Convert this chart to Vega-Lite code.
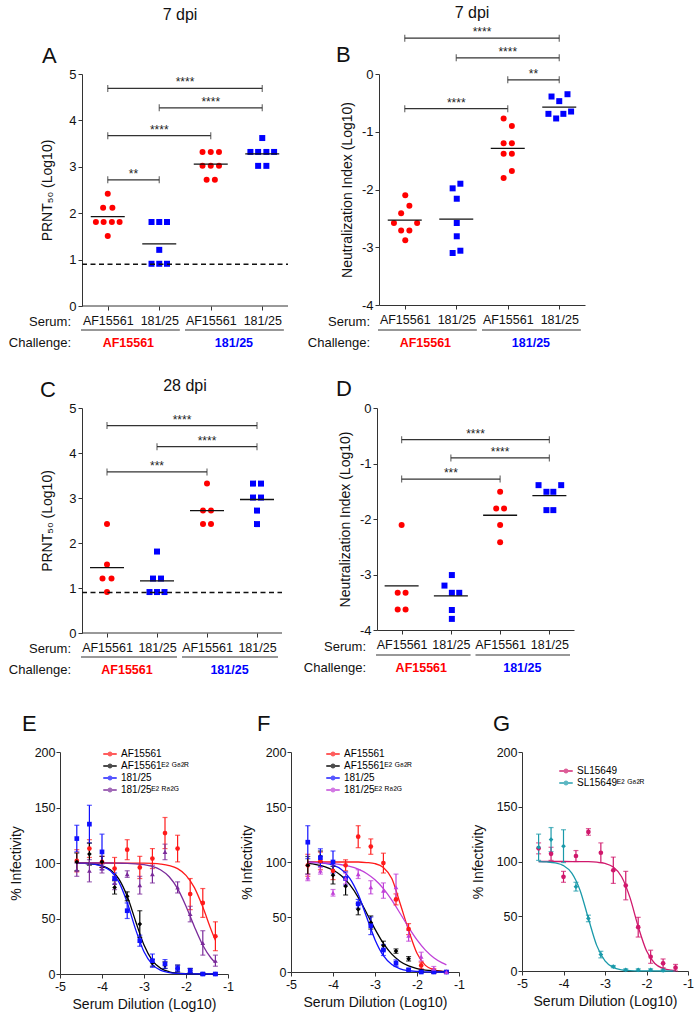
{
"$schema":"https://vega.github.io/schema/vega-lite/v6.json",
"padding":{"left":8,"top":5,"right":5,"bottom":5},
"background":"white",
"config":{"font":"Liberation Sans","view":{"stroke":null},
 "axis":{"grid":false,"domainColor":"#333","tickColor":"#333","labelColor":"#111","titleColor":"#111","titleFontWeight":"normal","tickSize":4,"labelFont":"Liberation Sans","titleFont":"Liberation Sans"},
 "title":{"font":"Liberation Sans","fontWeight":"normal","fontSize":16,"color":"#111"},
 "text":{"font":"Liberation Sans"}},
"datasets":{
"UL":[{"a":0.48,"b":2.4},{"a":2.5,"b":4.42}],
"CH":[{"t":"AF15561","x":1.4},{"t":"181/25","x":3.45}],
"A_pts":[{"g":1,"s":"AF15561","x":1.0,"v":2.42},{"g":1,"s":"AF15561","x":0.91,"v":2.12},{"g":1,"s":"AF15561","x":1.09,"v":2.12},{"g":1,"s":"AF15561","x":0.77,"v":1.81},{"g":1,"s":"AF15561","x":0.92,"v":1.81},{"g":1,"s":"AF15561","x":1.08,"v":1.81},{"g":1,"s":"AF15561","x":1.23,"v":1.81},{"g":1,"s":"AF15561","x":1.0,"v":1.51},
{"g":2,"s":"181/25","x":1.85,"v":1.81},{"g":2,"s":"181/25","x":2.0,"v":1.81},{"g":2,"s":"181/25","x":2.15,"v":1.81},{"g":2,"s":"181/25","x":2.0,"v":1.21},{"g":2,"s":"181/25","x":1.85,"v":0.91},{"g":2,"s":"181/25","x":2.0,"v":0.91},{"g":2,"s":"181/25","x":2.15,"v":0.91},
{"g":3,"s":"AF15561","x":2.84,"v":3.32},{"g":3,"s":"AF15561","x":3.0,"v":3.32},{"g":3,"s":"AF15561","x":3.16,"v":3.32},{"g":3,"s":"AF15561","x":2.84,"v":3.02},{"g":3,"s":"AF15561","x":3.0,"v":3.02},{"g":3,"s":"AF15561","x":3.16,"v":3.02},{"g":3,"s":"AF15561","x":2.92,"v":2.72},{"g":3,"s":"AF15561","x":3.08,"v":2.72},
{"g":4,"s":"181/25","x":4.0,"v":3.62},{"g":4,"s":"181/25","x":3.77,"v":3.32},{"g":4,"s":"181/25","x":3.92,"v":3.32},{"g":4,"s":"181/25","x":4.08,"v":3.32},{"g":4,"s":"181/25","x":4.23,"v":3.32},{"g":4,"s":"181/25","x":3.92,"v":3.02},{"g":4,"s":"181/25","x":4.08,"v":3.02}],
"A_br":[{"a":1,"b":4,"y":4.69,"l":"****","m":2.5},{"a":2,"b":4,"y":4.27,"l":"****","m":3},{"a":1,"b":3,"y":3.67,"l":"****","m":2},{"a":1,"b":2,"y":2.72,"l":"**","m":1.5}],
"B_pts":[{"g":1,"s":"AF15561","x":1.01,"v":-2.10},{"g":1,"s":"AF15561","x":1.09,"v":-2.28},{"g":1,"s":"AF15561","x":0.93,"v":-2.41},{"g":1,"s":"AF15561","x":0.79,"v":-2.58},{"g":1,"s":"AF15561","x":1.24,"v":-2.58},{"g":1,"s":"AF15561","x":0.93,"v":-2.71},{"g":1,"s":"AF15561","x":1.09,"v":-2.71},{"g":1,"s":"AF15561","x":1.01,"v":-2.88},
{"g":2,"s":"181/25","x":2.08,"v":-1.90},{"g":2,"s":"181/25","x":1.93,"v":-1.98},{"g":2,"s":"181/25","x":2.01,"v":-2.16},{"g":2,"s":"181/25","x":2.01,"v":-2.58},{"g":2,"s":"181/25","x":2.01,"v":-2.81},{"g":2,"s":"181/25","x":2.08,"v":-3.06},{"g":2,"s":"181/25","x":1.93,"v":-3.10},
{"g":3,"s":"AF15561","x":2.92,"v":-0.77},{"g":3,"s":"AF15561","x":3.08,"v":-0.90},{"g":3,"s":"AF15561","x":2.92,"v":-1.20},{"g":3,"s":"AF15561","x":3.08,"v":-1.20},{"g":3,"s":"AF15561","x":2.92,"v":-1.38},{"g":3,"s":"AF15561","x":3.08,"v":-1.38},{"g":3,"s":"AF15561","x":3.08,"v":-1.68},{"g":3,"s":"AF15561","x":2.92,"v":-1.80},
{"g":4,"s":"181/25","x":4.16,"v":-0.35},{"g":4,"s":"181/25","x":3.85,"v":-0.39},{"g":4,"s":"181/25","x":4.0,"v":-0.47},{"g":4,"s":"181/25","x":4.23,"v":-0.65},{"g":4,"s":"181/25","x":3.79,"v":-0.69},{"g":4,"s":"181/25","x":4.08,"v":-0.69},{"g":4,"s":"181/25","x":3.94,"v":-0.77}],
"B_br":[{"a":1,"b":4,"y":0.62,"l":"****","m":2.5},{"a":2,"b":4,"y":0.28,"l":"****","m":3},{"a":3,"b":4,"y":-0.10,"l":"**","m":3.5},{"a":1,"b":3,"y":-0.60,"l":"****","m":2}],
"C_pts":[{"g":1,"s":"AF15561","x":1.0,"v":2.42},{"g":1,"s":"AF15561","x":1.0,"v":1.52},{"g":1,"s":"AF15561","x":0.91,"v":1.21},{"g":1,"s":"AF15561","x":1.09,"v":1.21},{"g":1,"s":"AF15561","x":1.0,"v":0.91},
{"g":2,"s":"181/25","x":2.0,"v":1.81},{"g":2,"s":"181/25","x":1.92,"v":1.21},{"g":2,"s":"181/25","x":2.08,"v":1.21},{"g":2,"s":"181/25","x":1.85,"v":0.91},{"g":2,"s":"181/25","x":2.0,"v":0.91},{"g":2,"s":"181/25","x":2.15,"v":0.91},
{"g":3,"s":"AF15561","x":3.0,"v":3.32},{"g":3,"s":"AF15561","x":2.92,"v":2.72},{"g":3,"s":"AF15561","x":3.08,"v":2.72},{"g":3,"s":"AF15561","x":2.92,"v":2.42},{"g":3,"s":"AF15561","x":3.08,"v":2.42},
{"g":4,"s":"181/25","x":3.92,"v":3.32},{"g":4,"s":"181/25","x":4.08,"v":3.32},{"g":4,"s":"181/25","x":3.92,"v":3.01},{"g":4,"s":"181/25","x":4.08,"v":3.01},{"g":4,"s":"181/25","x":4.0,"v":2.72},{"g":4,"s":"181/25","x":4.0,"v":2.42}],
"C_br":[{"a":1,"b":4,"y":4.61,"l":"****","m":2.5},{"a":2,"b":4,"y":4.14,"l":"****","m":3},{"a":1,"b":3,"y":3.58,"l":"***","m":2}],
"D_pts":[{"g":1,"s":"AF15561","x":1.0,"v":-2.11},{"g":1,"s":"AF15561","x":0.92,"v":-3.33},{"g":1,"s":"AF15561","x":1.08,"v":-3.33},{"g":1,"s":"AF15561","x":0.92,"v":-3.63},{"g":1,"s":"AF15561","x":1.08,"v":-3.63},
{"g":2,"s":"181/25","x":2.02,"v":-3.01},{"g":2,"s":"181/25","x":1.87,"v":-3.20},{"g":2,"s":"181/25","x":2.02,"v":-3.33},{"g":2,"s":"181/25","x":2.17,"v":-3.33},{"g":2,"s":"181/25","x":2.02,"v":-3.64},{"g":2,"s":"181/25","x":2.02,"v":-3.80},
{"g":3,"s":"AF15561","x":3.0,"v":-1.51},{"g":3,"s":"AF15561","x":2.92,"v":-1.81},{"g":3,"s":"AF15561","x":3.08,"v":-1.81},{"g":3,"s":"AF15561","x":3.0,"v":-2.11},{"g":3,"s":"AF15561","x":3.0,"v":-2.42},
{"g":4,"s":"181/25","x":3.78,"v":-1.39},{"g":4,"s":"181/25","x":4.24,"v":-1.39},{"g":4,"s":"181/25","x":3.94,"v":-1.51},{"g":4,"s":"181/25","x":4.08,"v":-1.51},{"g":4,"s":"181/25","x":3.94,"v":-1.84},{"g":4,"s":"181/25","x":4.08,"v":-1.84}],
"D_br":[{"a":1,"b":4,"y":-0.57,"l":"****","m":2.5},{"a":2,"b":4,"y":-0.90,"l":"****","m":3},{"a":1,"b":3,"y":-1.28,"l":"***","m":2}],
"E_pts":[
{"s":"r","x":-4.6,"m":102,"e":10},{"s":"r","x":-4.3,"m":113,"e":8},{"s":"r","x":-4.0,"m":101,"e":5},{"s":"r","x":-3.7,"m":95,"e":10},{"s":"r","x":-3.4,"m":112,"e":9},{"s":"r","x":-3.1,"m":96,"e":10},{"s":"r","x":-2.8,"m":104,"e":9},{"s":"r","x":-2.5,"m":127,"e":14},{"s":"r","x":-2.2,"m":113,"e":12},{"s":"r","x":-1.9,"m":72,"e":14},{"s":"r","x":-1.6,"m":64,"e":13},{"s":"r","x":-1.3,"m":34,"e":13},
{"s":"k","x":-4.6,"m":101,"e":8},{"s":"k","x":-4.3,"m":108,"e":10},{"s":"k","x":-4.0,"m":101,"e":5},{"s":"k","x":-3.7,"m":78,"e":6},{"s":"k","x":-3.4,"m":70,"e":4},{"s":"k","x":-3.1,"m":45,"e":12},{"s":"k","x":-2.8,"m":10,"e":3},{"s":"k","x":-2.5,"m":8,"e":3},{"s":"k","x":-2.2,"m":5,"e":3},{"s":"k","x":-1.9,"m":3,"e":2},{"s":"k","x":-1.6,"m":0,"e":1},{"s":"k","x":-1.3,"m":0,"e":1},
{"s":"b","x":-4.6,"m":122,"e":12},{"s":"b","x":-4.3,"m":135,"e":17},{"s":"b","x":-4.0,"m":110,"e":16},{"s":"b","x":-3.7,"m":86,"e":5},{"s":"b","x":-3.4,"m":57,"e":7},{"s":"b","x":-3.1,"m":30,"e":5},{"s":"b","x":-2.8,"m":12,"e":6},{"s":"b","x":-2.5,"m":9,"e":4},{"s":"b","x":-2.2,"m":5,"e":3},{"s":"b","x":-1.9,"m":3,"e":2},{"s":"b","x":-1.6,"m":0,"e":1},{"s":"b","x":-1.3,"m":0,"e":1},
{"s":"p","x":-4.6,"m":94,"e":6},{"s":"p","x":-4.3,"m":93,"e":10},{"s":"p","x":-4.0,"m":95,"e":4},{"s":"p","x":-3.7,"m":82,"e":6},{"s":"p","x":-3.4,"m":90,"e":3},{"s":"p","x":-3.1,"m":80,"e":8},{"s":"p","x":-2.8,"m":90,"e":8},{"s":"p","x":-2.5,"m":110,"e":7},{"s":"p","x":-2.2,"m":78,"e":5},{"s":"p","x":-1.9,"m":54,"e":7},{"s":"p","x":-1.6,"m":28,"e":11},{"s":"p","x":-1.3,"m":12,"e":5}],
"E_fit":[
{"s":"r","x":-4.6,"y":100},{"s":"r","x":-4.2,"y":100},{"s":"r","x":-3.8,"y":100},{"s":"r","x":-3.4,"y":99.9},{"s":"r","x":-3.0,"y":99.8},{"s":"r","x":-2.8,"y":99.6},{"s":"r","x":-2.6,"y":99.0},{"s":"r","x":-2.4,"y":97.7},{"s":"r","x":-2.2,"y":94.9},{"s":"r","x":-2.0,"y":88.9},{"s":"r","x":-1.8,"y":77.8},{"s":"r","x":-1.6,"y":60.3},{"s":"r","x":-1.4,"y":39.7},{"s":"r","x":-1.3,"y":30.3},
{"s":"k","x":-4.6,"y":99.85},{"s":"k","x":-4.4,"y":99.6},{"s":"k","x":-4.2,"y":99.0},{"s":"k","x":-4.0,"y":97.5},{"s":"k","x":-3.8,"y":93.9},{"s":"k","x":-3.6,"y":85.7},{"s":"k","x":-3.4,"y":70.0},{"s":"k","x":-3.2,"y":47.6},{"s":"k","x":-3.0,"y":26.1},{"s":"k","x":-2.8,"y":12.1},{"s":"k","x":-2.6,"y":5.1},{"s":"k","x":-2.4,"y":2.0},{"s":"k","x":-2.2,"y":0.8},{"s":"k","x":-2.0,"y":0.3},{"s":"k","x":-1.8,"y":0.1},{"s":"k","x":-1.3,"y":0},
{"s":"b","x":-4.6,"y":99.85},{"s":"b","x":-4.4,"y":99.6},{"s":"b","x":-4.2,"y":99.0},{"s":"b","x":-4.0,"y":97.2},{"s":"b","x":-3.8,"y":92.9},{"s":"b","x":-3.6,"y":83.0},{"s":"b","x":-3.4,"y":64.4},{"s":"b","x":-3.2,"y":40.2},{"s":"b","x":-3.0,"y":20.0},{"s":"b","x":-2.8,"y":8.5},{"s":"b","x":-2.6,"y":3.3},{"s":"b","x":-2.4,"y":1.3},{"s":"b","x":-2.2,"y":0.5},{"s":"b","x":-2.0,"y":0.2},{"s":"b","x":-1.8,"y":0.1},{"s":"b","x":-1.3,"y":0},
{"s":"p","x":-4.6,"y":100},{"s":"p","x":-4.0,"y":100},{"s":"p","x":-3.6,"y":99.8},{"s":"p","x":-3.4,"y":99.7},{"s":"p","x":-3.2,"y":99.3},{"s":"p","x":-3.0,"y":98.5},{"s":"p","x":-2.8,"y":96.9},{"s":"p","x":-2.6,"y":93.7},{"s":"p","x":-2.4,"y":87.6},{"s":"p","x":-2.2,"y":76.9},{"s":"p","x":-2.0,"y":61.1},{"s":"p","x":-1.8,"y":42.6},{"s":"p","x":-1.6,"y":25.9},{"s":"p","x":-1.4,"y":14.2},{"s":"p","x":-1.3,"y":10.2}],
"F_pts":[
{"s":"r","x":-4.6,"m":97,"e":10},{"s":"r","x":-4.3,"m":101,"e":8},{"s":"r","x":-4.0,"m":92,"e":8},{"s":"r","x":-3.7,"m":97,"e":5},{"s":"r","x":-3.4,"m":123,"e":10},{"s":"r","x":-3.1,"m":114,"e":7},{"s":"r","x":-2.8,"m":99,"e":9},{"s":"r","x":-2.5,"m":66,"e":5},{"s":"r","x":-2.2,"m":39,"e":5},{"s":"r","x":-1.9,"m":6,"e":3},{"s":"r","x":-1.6,"m":1,"e":2},{"s":"r","x":-1.3,"m":0,"e":1},
{"s":"k","x":-4.6,"m":97,"e":8},{"s":"k","x":-4.3,"m":105,"e":5},{"s":"k","x":-4.0,"m":88,"e":8},{"s":"k","x":-3.7,"m":78,"e":8},{"s":"k","x":-3.4,"m":57,"e":5},{"s":"k","x":-3.1,"m":45,"e":6},{"s":"k","x":-2.8,"m":24,"e":4},{"s":"k","x":-2.5,"m":19,"e":2},{"s":"k","x":-2.2,"m":12,"e":2},{"s":"k","x":-1.9,"m":1,"e":1},{"s":"k","x":-1.6,"m":0,"e":1},{"s":"k","x":-1.3,"m":0,"e":1},
{"s":"b","x":-4.6,"m":118,"e":15},{"s":"b","x":-4.3,"m":104,"e":8},{"s":"b","x":-4.0,"m":100,"e":10},{"s":"b","x":-3.7,"m":85,"e":6},{"s":"b","x":-3.4,"m":62,"e":4},{"s":"b","x":-3.1,"m":42,"e":8},{"s":"b","x":-2.8,"m":20,"e":5},{"s":"b","x":-2.5,"m":8,"e":3},{"s":"b","x":-2.2,"m":2,"e":1},{"s":"b","x":-1.9,"m":0,"e":1},{"s":"b","x":-1.6,"m":0,"e":1},{"s":"b","x":-1.3,"m":0,"e":1},
{"s":"p","x":-4.6,"m":86,"e":3},{"s":"p","x":-4.3,"m":92,"e":3},{"s":"p","x":-4.0,"m":72,"e":3},{"s":"p","x":-3.7,"m":85,"e":5},{"s":"p","x":-3.4,"m":89,"e":4},{"s":"p","x":-3.1,"m":77,"e":6},{"s":"p","x":-2.8,"m":74,"e":7},{"s":"p","x":-2.5,"m":77,"e":12},{"s":"p","x":-2.2,"m":33,"e":5},{"s":"p","x":-1.9,"m":14,"e":4},{"s":"p","x":-1.6,"m":3,"e":2},{"s":"p","x":-1.3,"m":0,"e":1}],
"F_fit":[
{"s":"r","x":-4.6,"y":100},{"s":"r","x":-4.0,"y":100},{"s":"r","x":-3.4,"y":100},{"s":"r","x":-3.2,"y":99.5},{"s":"r","x":-3.0,"y":98.5},{"s":"r","x":-2.8,"y":95},{"s":"r","x":-2.6,"y":85},{"s":"r","x":-2.4,"y":62},{"s":"r","x":-2.2,"y":38},{"s":"r","x":-2.0,"y":17},{"s":"r","x":-1.8,"y":6},{"s":"r","x":-1.6,"y":2},{"s":"r","x":-1.4,"y":0.6},{"s":"r","x":-1.3,"y":0.3},
{"s":"k","x":-4.6,"y":98.7},{"s":"k","x":-4.4,"y":97.7},{"s":"k","x":-4.2,"y":95.9},{"s":"k","x":-4.0,"y":92.7},{"s":"k","x":-3.8,"y":87.5},{"s":"k","x":-3.6,"y":79.4},{"s":"k","x":-3.4,"y":67.9},{"s":"k","x":-3.2,"y":53.7},{"s":"k","x":-3.0,"y":39.0},{"s":"k","x":-2.8,"y":26.0},{"s":"k","x":-2.6,"y":16.2},{"s":"k","x":-2.4,"y":9.6},{"s":"k","x":-2.2,"y":5.5},{"s":"k","x":-2.0,"y":3.1},{"s":"k","x":-1.8,"y":1.7},{"s":"k","x":-1.6,"y":1.0},{"s":"k","x":-1.4,"y":0.5},{"s":"k","x":-1.3,"y":0.4},
{"s":"b","x":-4.6,"y":99.8},{"s":"b","x":-4.4,"y":99.5},{"s":"b","x":-4.2,"y":98.8},{"s":"b","x":-4.0,"y":97.1},{"s":"b","x":-3.8,"y":93.2},{"s":"b","x":-3.6,"y":85.2},{"s":"b","x":-3.4,"y":70.6},{"s":"b","x":-3.2,"y":50},{"s":"b","x":-3.0,"y":29.4},{"s":"b","x":-2.8,"y":14.8},{"s":"b","x":-2.6,"y":6.8},{"s":"b","x":-2.4,"y":2.9},{"s":"b","x":-2.2,"y":1.2},{"s":"b","x":-2.0,"y":0.5},{"s":"b","x":-1.8,"y":0.2},{"s":"b","x":-1.3,"y":0},
{"s":"p","x":-4.6,"y":99.7},{"s":"p","x":-4.4,"y":99.4},{"s":"p","x":-4.2,"y":99.1},{"s":"p","x":-4.0,"y":98.5},{"s":"p","x":-3.8,"y":97.5},{"s":"p","x":-3.6,"y":96.0},{"s":"p","x":-3.4,"y":93.5},{"s":"p","x":-3.2,"y":89.6},{"s":"p","x":-3.0,"y":83.8},{"s":"p","x":-2.8,"y":75.8},{"s":"p","x":-2.6,"y":65.3},{"s":"p","x":-2.4,"y":53.2},{"s":"p","x":-2.2,"y":40.6},{"s":"p","x":-2.0,"y":29.2},{"s":"p","x":-1.8,"y":19.9},{"s":"p","x":-1.6,"y":13.0},{"s":"p","x":-1.4,"y":8.3},{"s":"p","x":-1.3,"y":6.5}],
"G_pts":[
{"s":"m","x":-4.6,"m":112,"e":5},{"s":"m","x":-4.3,"m":107,"e":6},{"s":"m","x":-4.0,"m":86,"e":5},{"s":"m","x":-3.7,"m":105,"e":5},{"s":"m","x":-3.4,"m":127,"e":3},{"s":"m","x":-3.1,"m":108,"e":9},{"s":"m","x":-2.8,"m":92,"e":12},{"s":"m","x":-2.5,"m":78,"e":13},{"s":"m","x":-2.2,"m":40,"e":9},{"s":"m","x":-1.9,"m":13,"e":6},{"s":"m","x":-1.6,"m":7,"e":4},{"s":"m","x":-1.3,"m":3,"e":3},
{"s":"t","x":-4.6,"m":113,"e":12},{"s":"t","x":-4.3,"m":120,"e":11},{"s":"t","x":-4.0,"m":114,"e":15},{"s":"t","x":-3.7,"m":77,"e":4},{"s":"t","x":-3.4,"m":48,"e":3},{"s":"t","x":-3.1,"m":15,"e":3},{"s":"t","x":-2.8,"m":4,"e":1},{"s":"t","x":-2.5,"m":1,"e":1},{"s":"t","x":-2.2,"m":1,"e":1},{"s":"t","x":-1.9,"m":1,"e":1},{"s":"t","x":-1.6,"m":0.5,"e":1}],
"G_fit":[
{"s":"m","x":-4.6,"y":100},{"s":"m","x":-4.0,"y":100},{"s":"m","x":-3.6,"y":99.9},{"s":"m","x":-3.4,"y":99.8},{"s":"m","x":-3.2,"y":99.4},{"s":"m","x":-3.0,"y":98.3},{"s":"m","x":-2.8,"y":94.9},{"s":"m","x":-2.6,"y":86.1},{"s":"m","x":-2.4,"y":67.2},{"s":"m","x":-2.2,"y":40.5},{"s":"m","x":-2.0,"y":18.4},{"s":"m","x":-1.8,"y":6.9},{"s":"m","x":-1.6,"y":2.4},{"s":"m","x":-1.4,"y":0.8},{"s":"m","x":-1.3,"y":0.5},
{"s":"t","x":-4.6,"y":99.9},{"s":"t","x":-4.4,"y":99.6},{"s":"t","x":-4.2,"y":98.7},{"s":"t","x":-4.0,"y":96.2},{"s":"t","x":-3.8,"y":89.4},{"s":"t","x":-3.6,"y":73.6},{"s":"t","x":-3.4,"y":47.9},{"s":"t","x":-3.2,"y":23.4},{"s":"t","x":-3.0,"y":9.2},{"s":"t","x":-2.8,"y":3.2},{"s":"t","x":-2.6,"y":1.1},{"s":"t","x":-2.4,"y":0.4},{"s":"t","x":-2.2,"y":0.1},{"s":"t","x":-1.3,"y":0}]
},
"columns":1,
"spacing":36,
"resolve":{"scale":{"color":"independent","shape":"independent"},"legend":{"color":"independent","shape":"independent"}},
"concat":[
{"spacing":28,
 "resolve":{"scale":{"color":"independent","shape":"independent"},"legend":{"color":"independent","shape":"independent"}},
 "vconcat":[
 {"spacing":18,
  "resolve":{"scale":{"color":"independent","shape":"independent"},"legend":{"color":"independent","shape":"independent"}},
  "hconcat":[
  {"width":228,"height":232,
   "title":{"text":"7 dpi","offset":22,"dx":6,"anchor":"middle","frame":"group"},
   "layer":[
    {"data":{"name":"A_pts"},"mark":{"type":"point","filled":true,"size":36,"opacity":1},
     "encoding":{
      "x":{"field":"x","type":"quantitative","scale":{"domain":[0.0728,4.5],"nice":false,"zero":false},"axis":{"values":[1,2,3,4],"domain":false,"labelExpr":"datum.value == 1 || datum.value == 3 ? 'AF15561' : '181/25'","title":null,"labelFontSize":12.5,"labelPadding":4,"labelFlush":false,"labelOverlap":false}},
      "y":{"field":"v","type":"quantitative","scale":{"domain":[0,5],"nice":false,"zero":false},"axis":{"offset":-22,"values":[0,1,2,3,4,5],"labelExpr":"'' + datum.value","title":"PRNT₅₀ (Log10)","titleFontSize":14,"labelFontSize":13,"labelPadding":2,"titlePadding":14}},
      "color":{"field":"s","type":"nominal","scale":{"domain":["AF15561","181/25"],"range":["#ff0000","#0000ff"]},"legend":null},
      "shape":{"field":"s","type":"nominal","scale":{"domain":["AF15561","181/25"],"range":["circle","square"]},"legend":null}}},
    {"data":{"values":[{}]},"mark":{"type":"rule","color":"#333","strokeWidth":1},"encoding":{"x":{"datum":0.5},"x2":{"datum":4.5},"y":{"datum":0}}},
    {"data":{"name":"A_pts"},"mark":{"type":"tick","orient":"horizontal","size":34,"thickness":1.3,"color":"#111"},
     "encoding":{"x":{"field":"g","type":"quantitative"},"y":{"aggregate":"mean","field":"v","type":"quantitative"}}},
    {"data":{"values":[{"lod":0.9}]},"mark":{"type":"rule","strokeDash":[5,3.5],"strokeWidth":1.6,"color":"#111"},"encoding":{"x":{"datum":0.5},"x2":{"datum":4.5},"y":{"field":"lod","type":"quantitative"}}},
    {"data":{"name":"A_br"},"mark":{"type":"rule","color":"#333","strokeWidth":1.2},"encoding":{"x":{"field":"a","type":"quantitative"},"x2":{"field":"b"},"y":{"field":"y","type":"quantitative"}}},
    {"data":{"name":"A_br"},"mark":{"type":"tick","orient":"vertical","size":7,"thickness":1.2,"color":"#333"},"encoding":{"x":{"field":"a","type":"quantitative"},"y":{"field":"y","type":"quantitative"}}},
    {"data":{"name":"A_br"},"mark":{"type":"tick","orient":"vertical","size":7,"thickness":1.2,"color":"#333"},"encoding":{"x":{"field":"b","type":"quantitative"},"y":{"field":"y","type":"quantitative"}}},
    {"data":{"name":"A_br"},"mark":{"type":"text","fontSize":12,"dy":-2,"baseline":"alphabetic","color":"#222"},"encoding":{"x":{"field":"m","type":"quantitative"},"y":{"field":"y","type":"quantitative"},"text":{"field":"l"}}},
    {"data":{"name":"UL"},"mark":{"type":"rule","color":"#333","strokeWidth":1.1,"yOffset":24},"encoding":{"x":{"field":"a","type":"quantitative"},"x2":{"field":"b"},"y":{"datum":0}}},
    {"data":{"values":[{}]},"mark":{"type":"text","text":"Serum:","align":"right","baseline":"middle","dx":-11,"dy":16,"fontSize":13,"color":"#111"},"encoding":{"x":{"datum":0.5},"y":{"datum":0}}},
    {"data":{"values":[{}]},"mark":{"type":"text","text":"Challenge:","align":"right","baseline":"middle","dx":-11,"dy":37,"fontSize":13,"color":"#111"},"encoding":{"x":{"datum":0.5},"y":{"datum":0}}},
    {"data":{"name":"CH"},"mark":{"type":"text","fontWeight":"bold","fontSize":12.5,"baseline":"middle","dy":37},"encoding":{"x":{"field":"x","type":"quantitative"},"y":{"datum":0},"text":{"field":"t"},"color":{"field":"t","type":"nominal"}}},
    {"data":{"values":[{}]},"mark":{"type":"text","text":"A","fontSize":22,"align":"left","baseline":"middle","dx":-40,"dy":-18,"color":"#111"},"encoding":{"x":{"datum":0.5},"y":{"datum":5}}}
   ]},
  {"width":206,"height":231,
   "title":{"text":"7 dpi","offset":5,"dx":-10,"anchor":"middle","frame":"group"},
   "layer":[
    {"data":{"name":"B_pts"},"mark":{"type":"point","filled":true,"size":36,"opacity":1},
     "encoding":{
      "x":{"field":"x","type":"quantitative","scale":{"domain":[0.5,4.5],"nice":false,"zero":false},"axis":{"values":[1,2,3,4],"labelExpr":"datum.value == 1 || datum.value == 3 ? 'AF15561' : '181/25'","title":null,"labelFontSize":12.5,"labelPadding":4,"labelFlush":false,"labelOverlap":false}},
      "y":{"field":"v","type":"quantitative","scale":{"domain":[-4,0],"nice":false,"zero":false},"axis":{"values":[-4,-3,-2,-1,0],"labelExpr":"'' + datum.value","title":"Neutralization Index (Log10)","titleFontSize":14,"labelFontSize":13,"labelPadding":2,"titlePadding":7}},
      "color":{"field":"s","type":"nominal","scale":{"domain":["AF15561","181/25"],"range":["#ff0000","#0000ff"]},"legend":null},
      "shape":{"field":"s","type":"nominal","scale":{"domain":["AF15561","181/25"],"range":["circle","square"]},"legend":null}}},
    {"data":{"name":"B_pts"},"mark":{"type":"tick","orient":"horizontal","size":34,"thickness":1.3,"color":"#111"},
     "encoding":{"x":{"field":"g","type":"quantitative"},"y":{"aggregate":"mean","field":"v","type":"quantitative"}}},
    {"data":{"name":"B_br"},"mark":{"type":"rule","color":"#333","strokeWidth":1.2},"encoding":{"x":{"field":"a","type":"quantitative"},"x2":{"field":"b"},"y":{"field":"y","type":"quantitative"}}},
    {"data":{"name":"B_br"},"mark":{"type":"tick","orient":"vertical","size":7,"thickness":1.2,"color":"#333"},"encoding":{"x":{"field":"a","type":"quantitative"},"y":{"field":"y","type":"quantitative"}}},
    {"data":{"name":"B_br"},"mark":{"type":"tick","orient":"vertical","size":7,"thickness":1.2,"color":"#333"},"encoding":{"x":{"field":"b","type":"quantitative"},"y":{"field":"y","type":"quantitative"}}},
    {"data":{"name":"B_br"},"mark":{"type":"text","fontSize":12,"dy":-2,"baseline":"alphabetic","color":"#222"},"encoding":{"x":{"field":"m","type":"quantitative"},"y":{"field":"y","type":"quantitative"},"text":{"field":"l"}}},
    {"data":{"name":"UL"},"mark":{"type":"rule","color":"#333","strokeWidth":1.1,"yOffset":25},"encoding":{"x":{"field":"a","type":"quantitative"},"x2":{"field":"b"},"y":{"datum":-4}}},
    {"data":{"values":[{}]},"mark":{"type":"text","text":"Serum:","align":"right","baseline":"middle","dx":-9,"dy":17,"fontSize":13,"color":"#111"},"encoding":{"x":{"datum":0.5},"y":{"datum":-4}}},
    {"data":{"values":[{}]},"mark":{"type":"text","text":"Challenge:","align":"right","baseline":"middle","dx":-9,"dy":38,"fontSize":13,"color":"#111"},"encoding":{"x":{"datum":0.5},"y":{"datum":-4}}},
    {"data":{"name":"CH"},"mark":{"type":"text","fontWeight":"bold","fontSize":12.5,"baseline":"middle","dy":38},"encoding":{"x":{"field":"x","type":"quantitative"},"y":{"datum":-4},"text":{"field":"t"},"color":{"field":"t","type":"nominal"}}},
    {"data":{"values":[{}]},"mark":{"type":"text","text":"B","fontSize":22,"align":"left","baseline":"middle","dx":-43,"dy":-19,"color":"#111"},"encoding":{"x":{"datum":0.5},"y":{"datum":0}}}
   ]}
  ]},
 {"spacing":20,
  "resolve":{"scale":{"color":"independent","shape":"independent"},"legend":{"color":"independent","shape":"independent"}},
  "hconcat":[
  {"width":222,"height":225,
   "title":{"text":"28 dpi","offset":-15,"dx":14,"anchor":"middle","frame":"group"},
   "layer":[
    {"data":{"name":"C_pts"},"mark":{"type":"point","filled":true,"size":36,"opacity":1},
     "encoding":{
      "x":{"field":"x","type":"quantitative","scale":{"domain":[0.06,4.5],"nice":false,"zero":false},"axis":{"values":[1,2,3,4],"domain":false,"labelExpr":"datum.value == 1 || datum.value == 3 ? 'AF15561' : '181/25'","title":null,"labelFontSize":12.5,"labelPadding":4,"labelFlush":false,"labelOverlap":false}},
      "y":{"field":"v","type":"quantitative","scale":{"domain":[0,5],"nice":false,"zero":false},"axis":{"offset":-22,"values":[0,1,2,3,4,5],"labelExpr":"'' + datum.value","title":"PRNT₅₀ (Log10)","titleFontSize":14,"labelFontSize":13,"labelPadding":2,"titlePadding":14}},
      "color":{"field":"s","type":"nominal","scale":{"domain":["AF15561","181/25"],"range":["#ff0000","#0000ff"]},"legend":null},
      "shape":{"field":"s","type":"nominal","scale":{"domain":["AF15561","181/25"],"range":["circle","square"]},"legend":null}}},
    {"data":{"values":[{}]},"mark":{"type":"rule","color":"#333","strokeWidth":1},"encoding":{"x":{"datum":0.5},"x2":{"datum":4.5},"y":{"datum":0}}},
    {"data":{"name":"C_pts"},"mark":{"type":"tick","orient":"horizontal","size":34,"thickness":1.3,"color":"#111"},
     "encoding":{"x":{"field":"g","type":"quantitative"},"y":{"aggregate":"mean","field":"v","type":"quantitative"}}},
    {"data":{"values":[{"lod":0.9}]},"mark":{"type":"rule","strokeDash":[5,3.5],"strokeWidth":1.6,"color":"#111"},"encoding":{"x":{"datum":0.5},"x2":{"datum":4.5},"y":{"field":"lod","type":"quantitative"}}},
    {"data":{"name":"C_br"},"mark":{"type":"rule","color":"#333","strokeWidth":1.2},"encoding":{"x":{"field":"a","type":"quantitative"},"x2":{"field":"b"},"y":{"field":"y","type":"quantitative"}}},
    {"data":{"name":"C_br"},"mark":{"type":"tick","orient":"vertical","size":7,"thickness":1.2,"color":"#333"},"encoding":{"x":{"field":"a","type":"quantitative"},"y":{"field":"y","type":"quantitative"}}},
    {"data":{"name":"C_br"},"mark":{"type":"tick","orient":"vertical","size":7,"thickness":1.2,"color":"#333"},"encoding":{"x":{"field":"b","type":"quantitative"},"y":{"field":"y","type":"quantitative"}}},
    {"data":{"name":"C_br"},"mark":{"type":"text","fontSize":12,"dy":-2,"baseline":"alphabetic","color":"#222"},"encoding":{"x":{"field":"m","type":"quantitative"},"y":{"field":"y","type":"quantitative"},"text":{"field":"l"}}},
    {"data":{"name":"UL"},"mark":{"type":"rule","color":"#333","strokeWidth":1.1,"yOffset":24},"encoding":{"x":{"field":"a","type":"quantitative"},"x2":{"field":"b"},"y":{"datum":0}}},
    {"data":{"values":[{}]},"mark":{"type":"text","text":"Serum:","align":"right","baseline":"middle","dx":-11,"dy":16,"fontSize":13,"color":"#111"},"encoding":{"x":{"datum":0.5},"y":{"datum":0}}},
    {"data":{"values":[{}]},"mark":{"type":"text","text":"Challenge:","align":"right","baseline":"middle","dx":-11,"dy":37,"fontSize":13,"color":"#111"},"encoding":{"x":{"datum":0.5},"y":{"datum":0}}},
    {"data":{"name":"CH"},"mark":{"type":"text","fontWeight":"bold","fontSize":12.5,"baseline":"middle","dy":37},"encoding":{"x":{"field":"x","type":"quantitative"},"y":{"datum":0},"text":{"field":"t"},"color":{"field":"t","type":"nominal"}}},
    {"data":{"values":[{}]},"mark":{"type":"text","text":"C","fontSize":22,"align":"left","baseline":"middle","dx":-42,"dy":-18,"color":"#111"},"encoding":{"x":{"datum":0.5},"y":{"datum":5}}}
   ]},
  {"width":197,"height":222,
   "layer":[
    {"data":{"name":"D_pts"},"mark":{"type":"point","filled":true,"size":36,"opacity":1},
     "encoding":{
      "x":{"field":"x","type":"quantitative","scale":{"domain":[0.5,4.5],"nice":false,"zero":false},"axis":{"values":[1,2,3,4],"labelExpr":"datum.value == 1 || datum.value == 3 ? 'AF15561' : '181/25'","title":null,"labelFontSize":12.5,"labelPadding":4,"labelFlush":false,"labelOverlap":false}},
      "y":{"field":"v","type":"quantitative","scale":{"domain":[-4,0],"nice":false,"zero":false},"axis":{"values":[-4,-3,-2,-1,0],"labelExpr":"'' + datum.value","title":"Neutralization Index (Log10)","titleFontSize":14,"labelFontSize":13,"labelPadding":2,"titlePadding":7}},
      "color":{"field":"s","type":"nominal","scale":{"domain":["AF15561","181/25"],"range":["#ff0000","#0000ff"]},"legend":null},
      "shape":{"field":"s","type":"nominal","scale":{"domain":["AF15561","181/25"],"range":["circle","square"]},"legend":null}}},
    {"data":{"name":"D_pts"},"mark":{"type":"tick","orient":"horizontal","size":34,"thickness":1.3,"color":"#111"},
     "encoding":{"x":{"field":"g","type":"quantitative"},"y":{"aggregate":"mean","field":"v","type":"quantitative"}}},
    {"data":{"name":"D_br"},"mark":{"type":"rule","color":"#333","strokeWidth":1.2},"encoding":{"x":{"field":"a","type":"quantitative"},"x2":{"field":"b"},"y":{"field":"y","type":"quantitative"}}},
    {"data":{"name":"D_br"},"mark":{"type":"tick","orient":"vertical","size":7,"thickness":1.2,"color":"#333"},"encoding":{"x":{"field":"a","type":"quantitative"},"y":{"field":"y","type":"quantitative"}}},
    {"data":{"name":"D_br"},"mark":{"type":"tick","orient":"vertical","size":7,"thickness":1.2,"color":"#333"},"encoding":{"x":{"field":"b","type":"quantitative"},"y":{"field":"y","type":"quantitative"}}},
    {"data":{"name":"D_br"},"mark":{"type":"text","fontSize":12,"dy":-2,"baseline":"alphabetic","color":"#222"},"encoding":{"x":{"field":"m","type":"quantitative"},"y":{"field":"y","type":"quantitative"},"text":{"field":"l"}}},
    {"data":{"name":"UL"},"mark":{"type":"rule","color":"#333","strokeWidth":1.1,"yOffset":25},"encoding":{"x":{"field":"a","type":"quantitative"},"x2":{"field":"b"},"y":{"datum":-4}}},
    {"data":{"values":[{}]},"mark":{"type":"text","text":"Serum:","align":"right","baseline":"middle","dx":-11,"dy":17,"fontSize":13,"color":"#111"},"encoding":{"x":{"datum":0.5},"y":{"datum":-4}}},
    {"data":{"values":[{}]},"mark":{"type":"text","text":"Challenge:","align":"right","baseline":"middle","dx":-11,"dy":38,"fontSize":13,"color":"#111"},"encoding":{"x":{"datum":0.5},"y":{"datum":-4}}},
    {"data":{"name":"CH"},"mark":{"type":"text","fontWeight":"bold","fontSize":12.5,"baseline":"middle","dy":38},"encoding":{"x":{"field":"x","type":"quantitative"},"y":{"datum":-4},"text":{"field":"t"},"color":{"field":"t","type":"nominal"}}},
    {"data":{"values":[{}]},"mark":{"type":"text","text":"D","fontSize":22,"align":"left","baseline":"middle","dx":-41,"dy":-19,"color":"#111"},"encoding":{"x":{"datum":0.5},"y":{"datum":0}}}
   ]}
  ]}
 ]},
{"spacing":6,
 "resolve":{"scale":{"color":"independent","shape":"independent"},"legend":{"color":"independent","shape":"independent"}},
 "hconcat":[
 {"width":168,"height":222,
  "layer":[
   {"data":{"name":"E_fit"},"mark":{"type":"line","strokeWidth":1.3,"interpolate":"monotone"},
    "encoding":{
     "x":{"field":"x","type":"quantitative","title":"Serum Dilution (Log10)","scale":{"domain":[-5,-1],"nice":false,"zero":false},"axis":{"values":[-5,-4,-3,-2,-1],"labelExpr":"'' + datum.value","titleFontSize":14,"labelFontSize":12.5,"labelPadding":2,"titlePadding":5,"labelFlush":false}},
     "y":{"field":"y","type":"quantitative","title":"% Infectivity","scale":{"domain":[0,200],"nice":false},"axis":{"values":[0,50,100,150,200],"titleFontSize":14,"labelFontSize":12.5,"labelPadding":1,"titlePadding":11}},
     "color":{"field":"s","type":"nominal","scale":{"domain":["r","k","b","p"],"range":["#ff1a1a","#000000","#1010ff","#7a2a9a"]},
      "legend":{"orient":"none","legendX":43,"legendY":-5,"title":null,"labelFontSize":10,"labelExpr":"datum.label=='r'?'AF15561':datum.label=='k'?'AF15561ᴱ² ᴳ⁸²ᴿ':datum.label=='b'?'181/25':'181/25ᴱ² ᴿ⁸²ᴳ'","symbolType":"M-1,-0.08L1,-0.08L1,0.08L-1,0.08Z M-0.3,0A0.3,0.3,0,1,1,0.3,0A0.3,0.3,0,1,1,-0.3,0Z","symbolSize":150,"symbolStrokeWidth":1.2,"rowPadding":-1,"labelOffset":4,"labelLimit":200,"padding":0}}}},
   {"data":{"name":"E_pts"},"mark":{"type":"errorbar","ticks":{"size":5},"thickness":1.2},
    "encoding":{"x":{"field":"x","type":"quantitative","title":"Serum Dilution (Log10)"},"y":{"field":"m","type":"quantitative","title":"% Infectivity"},"yError":{"field":"e"},"color":{"field":"s","type":"nominal"}}},
   {"data":{"name":"E_pts"},"transform":[{"filter":"datum.s=='r'"}],"mark":{"type":"point","filled":true,"size":22,"opacity":1,"shape":"circle"},
    "encoding":{"x":{"field":"x","type":"quantitative","title":"Serum Dilution (Log10)"},"y":{"field":"m","type":"quantitative","title":"% Infectivity"},"color":{"field":"s","type":"nominal"}}},
   {"data":{"name":"E_pts"},"transform":[{"filter":"datum.s=='k'"}],"mark":{"type":"point","filled":true,"size":22,"opacity":1,"shape":"diamond"},
    "encoding":{"x":{"field":"x","type":"quantitative","title":"Serum Dilution (Log10)"},"y":{"field":"m","type":"quantitative","title":"% Infectivity"},"color":{"field":"s","type":"nominal"}}},
   {"data":{"name":"E_pts"},"transform":[{"filter":"datum.s=='b'"}],"mark":{"type":"point","filled":true,"size":22,"opacity":1,"shape":"square"},
    "encoding":{"x":{"field":"x","type":"quantitative","title":"Serum Dilution (Log10)"},"y":{"field":"m","type":"quantitative","title":"% Infectivity"},"color":{"field":"s","type":"nominal"}}},
   {"data":{"name":"E_pts"},"transform":[{"filter":"datum.s=='p'"}],"mark":{"type":"point","filled":true,"size":22,"opacity":1,"shape":"triangle-up"},
    "encoding":{"x":{"field":"x","type":"quantitative","title":"Serum Dilution (Log10)"},"y":{"field":"m","type":"quantitative","title":"% Infectivity"},"color":{"field":"s","type":"nominal"}}},
   {"data":{"values":[{}]},"mark":{"type":"text","text":"E","fontSize":22,"align":"left","baseline":"middle","dx":-38,"dy":-28,"color":"#111"},"encoding":{"x":{"datum":-5},"y":{"datum":200}}}
  ]},
 {"width":168,"height":220,
  "layer":[
   {"data":{"name":"F_fit"},"mark":{"type":"line","strokeWidth":1.3,"interpolate":"monotone"},
    "encoding":{
     "x":{"field":"x","type":"quantitative","title":"Serum Dilution (Log10)","scale":{"domain":[-5,-1],"nice":false,"zero":false},"axis":{"values":[-5,-4,-3,-2,-1],"labelExpr":"'' + datum.value","titleFontSize":14,"labelFontSize":12.5,"labelPadding":2,"titlePadding":5,"labelFlush":false}},
     "y":{"field":"y","type":"quantitative","title":"% Infectivity","scale":{"domain":[0,200],"nice":false},"axis":{"values":[0,50,100,150,200],"titleFontSize":14,"labelFontSize":12.5,"labelPadding":1,"titlePadding":11}},
     "color":{"field":"s","type":"nominal","scale":{"domain":["r","k","b","p"],"range":["#ff1a1a","#000000","#1010ff","#c040d8"]},
      "legend":{"orient":"none","legendX":35,"legendY":-5,"title":null,"labelFontSize":10,"labelExpr":"datum.label=='r'?'AF15561':datum.label=='k'?'AF15561ᴱ² ᴳ⁸²ᴿ':datum.label=='b'?'181/25':'181/25ᴱ² ᴿ⁸²ᴳ'","symbolType":"M-1,-0.08L1,-0.08L1,0.08L-1,0.08Z M-0.3,0A0.3,0.3,0,1,1,0.3,0A0.3,0.3,0,1,1,-0.3,0Z","symbolSize":150,"symbolStrokeWidth":1.2,"rowPadding":-1,"labelOffset":4,"labelLimit":200,"padding":0}}}},
   {"data":{"name":"F_pts"},"mark":{"type":"errorbar","ticks":{"size":5},"thickness":1.2},
    "encoding":{"x":{"field":"x","type":"quantitative","title":"Serum Dilution (Log10)"},"y":{"field":"m","type":"quantitative","title":"% Infectivity"},"yError":{"field":"e"},"color":{"field":"s","type":"nominal"}}},
   {"data":{"name":"F_pts"},"transform":[{"filter":"datum.s=='r'"}],"mark":{"type":"point","filled":true,"size":22,"opacity":1,"shape":"circle"},
    "encoding":{"x":{"field":"x","type":"quantitative","title":"Serum Dilution (Log10)"},"y":{"field":"m","type":"quantitative","title":"% Infectivity"},"color":{"field":"s","type":"nominal"}}},
   {"data":{"name":"F_pts"},"transform":[{"filter":"datum.s=='k'"}],"mark":{"type":"point","filled":true,"size":22,"opacity":1,"shape":"diamond"},
    "encoding":{"x":{"field":"x","type":"quantitative","title":"Serum Dilution (Log10)"},"y":{"field":"m","type":"quantitative","title":"% Infectivity"},"color":{"field":"s","type":"nominal"}}},
   {"data":{"name":"F_pts"},"transform":[{"filter":"datum.s=='b'"}],"mark":{"type":"point","filled":true,"size":22,"opacity":1,"shape":"square"},
    "encoding":{"x":{"field":"x","type":"quantitative","title":"Serum Dilution (Log10)"},"y":{"field":"m","type":"quantitative","title":"% Infectivity"},"color":{"field":"s","type":"nominal"}}},
   {"data":{"name":"F_pts"},"transform":[{"filter":"datum.s=='p'"}],"mark":{"type":"point","filled":true,"size":22,"opacity":1,"shape":"triangle-up"},
    "encoding":{"x":{"field":"x","type":"quantitative","title":"Serum Dilution (Log10)"},"y":{"field":"m","type":"quantitative","title":"% Infectivity"},"color":{"field":"s","type":"nominal"}}},
   {"data":{"values":[{}]},"mark":{"type":"text","text":"F","fontSize":22,"align":"left","baseline":"middle","dx":-34,"dy":-28,"color":"#111"},"encoding":{"x":{"datum":-5},"y":{"datum":200}}}
  ]},
 {"width":166,"height":219,
  "layer":[
   {"data":{"name":"G_fit"},"mark":{"type":"line","strokeWidth":1.3,"interpolate":"monotone"},
    "encoding":{
     "x":{"field":"x","type":"quantitative","title":"Serum Dilution (Log10)","scale":{"domain":[-5,-1],"nice":false,"zero":false},"axis":{"values":[-5,-4,-3,-2,-1],"labelExpr":"'' + datum.value","titleFontSize":14,"labelFontSize":12.5,"labelPadding":2,"titlePadding":5,"labelFlush":false}},
     "y":{"field":"y","type":"quantitative","title":"% Infectivity","scale":{"domain":[0,200],"nice":false},"axis":{"values":[0,50,100,150,200],"titleFontSize":14,"labelFontSize":12.5,"labelPadding":1,"titlePadding":11}},
     "color":{"field":"s","type":"nominal","scale":{"domain":["m","t"],"range":["#d0186c","#1a9aaa"]},
      "legend":{"orient":"none","legendX":37,"legendY":12,"title":null,"labelFontSize":10,"labelExpr":"datum.label=='m'?'SL15649':'SL15649ᴱ² ᴳ⁸²ᴿ'","symbolType":"M-1,-0.08L1,-0.08L1,0.08L-1,0.08Z M-0.3,0A0.3,0.3,0,1,1,0.3,0A0.3,0.3,0,1,1,-0.3,0Z","symbolSize":150,"symbolStrokeWidth":1.2,"rowPadding":-1,"labelOffset":4,"labelLimit":200,"padding":0}}}},
   {"data":{"name":"G_pts"},"mark":{"type":"errorbar","ticks":{"size":5},"thickness":1.2},
    "encoding":{"x":{"field":"x","type":"quantitative","title":"Serum Dilution (Log10)"},"y":{"field":"m","type":"quantitative","title":"% Infectivity"},"yError":{"field":"e"},"color":{"field":"s","type":"nominal"}}},
   {"data":{"name":"G_pts"},"transform":[{"filter":"datum.s=='m'"}],"mark":{"type":"point","filled":true,"size":22,"opacity":1,"shape":"circle"},
    "encoding":{"x":{"field":"x","type":"quantitative","title":"Serum Dilution (Log10)"},"y":{"field":"m","type":"quantitative","title":"% Infectivity"},"color":{"field":"s","type":"nominal"}}},
   {"data":{"name":"G_pts"},"transform":[{"filter":"datum.s=='t'"}],"mark":{"type":"point","filled":true,"size":22,"opacity":1,"shape":"diamond"},
    "encoding":{"x":{"field":"x","type":"quantitative","title":"Serum Dilution (Log10)"},"y":{"field":"m","type":"quantitative","title":"% Infectivity"},"color":{"field":"s","type":"nominal"}}},
   {"data":{"values":[{}]},"mark":{"type":"text","text":"G","fontSize":22,"align":"left","baseline":"middle","dx":-29,"dy":-28,"color":"#111"},"encoding":{"x":{"datum":-5},"y":{"datum":200}}}
  ]}
 ]}
]
}
